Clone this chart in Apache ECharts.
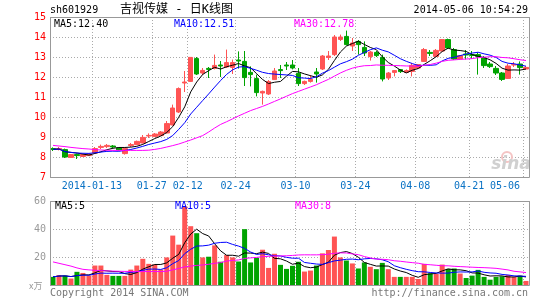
<!DOCTYPE html>
<html><head><meta charset="utf-8">
<script src="https://cdn.jsdelivr.net/npm/echarts/dist/echarts.min.js"></script>
<style>html,body{margin:0;padding:0;background:#fff}#c{width:545px;height:300px}</style>
</head><body><div id="c"></div>
<script>
const dates = ['2014-01-02','2014-01-03','2014-01-06','2014-01-07','2014-01-08','2014-01-09','2014-01-10','2014-01-13','2014-01-14','2014-01-15','2014-01-16','2014-01-17','2014-01-20','2014-01-21','2014-01-22','2014-01-23','2014-01-24','2014-01-27','2014-01-28','2014-01-29',
'2014-02-07','2014-02-10','2014-02-11','2014-02-12','2014-02-13','2014-02-14','2014-02-17','2014-02-18','2014-02-19','2014-02-20','2014-02-21','2014-02-24','2014-02-25','2014-02-26','2014-02-27','2014-02-28',
'2014-03-03','2014-03-04','2014-03-05','2014-03-06','2014-03-07','2014-03-10','2014-03-11','2014-03-12','2014-03-13','2014-03-14','2014-03-17','2014-03-18','2014-03-19','2014-03-20','2014-03-21','2014-03-24','2014-03-25','2014-03-26','2014-03-27','2014-03-28','2014-03-31',
'2014-04-01','2014-04-02','2014-04-03','2014-04-04','2014-04-08','2014-04-09','2014-04-10','2014-04-11','2014-04-14','2014-04-15','2014-04-16','2014-04-17','2014-04-18','2014-04-21','2014-04-22','2014-04-23','2014-04-24','2014-04-25','2014-04-28','2014-04-29','2014-04-30',
'2014-05-05','2014-05-06'];
const opens = [8.42,8.38,8.37,7.98,8.12,8.03,8.07,8.20,8.48,8.52,8.55,8.45,8.17,8.57,8.62,8.70,9.05,9.02,9.07,9.20,
9.60,10.25,11.70,11.78,12.92,12.20,12.43,12.43,12.60,12.50,12.48,12.85,12.78,12.23,11.92,11.20,
11.15,11.87,12.37,12.60,12.60,12.18,11.67,11.78,12.25,12.40,12.98,13.12,13.88,14.03,13.55,13.78,13.48,13.02,13.23,12.98,11.95,
12.23,12.37,12.23,12.28,12.45,12.78,13.23,13.03,13.30,13.87,13.37,12.90,13.15,13.12,13.12,12.95,12.65,12.43,12.20,11.93,12.60,
12.65,12.40];
const closes = [8.38,8.42,8.00,8.12,8.07,8.13,8.15,8.42,8.53,8.58,8.50,8.35,8.42,8.62,8.78,8.98,9.08,9.15,9.25,9.67,
10.45,11.42,11.75,12.98,12.15,12.33,12.38,12.58,12.55,12.72,12.72,12.80,11.97,12.12,11.22,11.28,
11.77,12.30,12.32,12.55,12.45,11.67,11.78,11.88,12.15,13.05,13.05,14.00,14.00,13.62,13.70,13.62,13.20,13.25,13.07,11.90,12.20,
12.32,12.27,12.32,12.58,12.62,13.37,13.18,13.33,13.87,13.45,12.90,13.07,13.10,13.08,13.03,12.57,12.52,12.20,11.88,12.55,12.62,
12.47,12.48];
const lows = [8.30,8.33,7.95,7.95,7.90,8.02,8.05,8.18,8.40,8.45,8.42,8.33,8.12,8.50,8.60,8.68,8.95,9.00,9.05,9.18,
9.58,10.20,11.25,11.75,12.10,12.10,11.95,12.38,12.00,12.45,12.15,12.42,11.55,11.53,11.03,10.62,
11.10,11.85,11.95,12.35,12.38,11.55,11.60,11.72,11.72,12.35,12.85,13.05,13.80,13.58,13.30,13.12,13.05,12.82,13.00,11.78,11.85,
12.03,12.20,12.20,12.03,12.40,12.75,13.05,13.00,13.28,13.40,12.85,12.88,12.88,12.90,12.12,12.45,12.45,12.10,11.80,11.90,12.50,
12.12,12.38];
const highs = [8.48,8.50,8.42,8.15,8.17,8.15,8.17,8.50,8.62,8.65,8.60,8.47,8.45,8.70,8.82,9.10,9.18,9.20,9.30,9.80,
10.62,11.48,12.30,12.98,13.00,12.45,12.50,13.12,12.80,13.37,12.87,13.28,13.30,12.53,12.12,11.32,
11.85,12.45,12.60,12.75,12.85,12.45,11.82,12.10,12.45,13.10,13.30,14.10,14.12,14.32,13.95,13.85,13.78,13.30,13.30,13.12,12.25,
12.35,12.40,12.38,12.70,12.65,13.45,13.35,13.40,13.90,13.92,13.45,13.10,13.35,13.30,13.23,13.05,12.75,12.55,12.25,12.65,12.75,
12.78,12.55];
const volumes = [5.8,7.0,6.7,4.6,9.4,8.6,6.7,13.9,13.9,7.2,6.5,6.5,6.5,11.0,13.9,18.7,15.1,14.6,11.0,19.7,
35.3,28.8,56.2,42.0,37.0,19.7,20.2,28.3,16.6,21.4,19.7,16.8,39.9,16.1,19.4,25.2,
12.2,22.3,14.4,11.5,13.7,16.6,9.6,10.3,13.9,22.6,25.0,34.6,19.7,17.5,15.4,11.8,16.1,13.0,11.3,15.8,11.3,
5.8,5.8,5.8,5.8,4.3,15.1,8.4,7.9,14.6,11.5,11.8,8.2,5.0,6.7,10.8,5.8,3.8,5.8,6.2,7.2,5.8,
6.7,2.9];
// MA30 values for the first days (earlier history is not shown)
const ma30Head = [8.58,8.55,8.52,8.48,8.45,8.42,8.40,8.37,8.35,8.34,8.33,8.33,8.33,8.33,8.33,8.33,8.34,8.38,8.43,8.50,
8.57,8.65,8.75,8.85,8.96,9.07,9.25,9.45,9.63];
const volMa30Head = [16.5,15.5,14.5,13.5,12.2,11.2,10.8,10.5,10.3,10.1,9.9,9.8,9.7,9.7,9.6,9.6,9.6,9.6,9.6,9.8,
10.8,11.8,13.0,13.5,14.0,14.3,14.8,15.5,16.0];
const labelIdx = [7,17,23,31,41,51,61,70,79];
const priceTicks = {min:7, max:15, step:1};
const volTicks = {min:0, max:60, step:20};
const headerPrice = ['MA5:12.40','MA10:12.51','MA30:12.78'];
const headerVol = ['MA5:5','MA10:5','MA30:8'];

function ma(arr, n, head) {
  return arr.map((v, i) => {
    if (head && i < head.length) return head[i];
    const s = Math.max(0, i - n + 1);
    let sum = 0; for (let k = s; k <= i; k++) sum += arr[k];
    return +(sum / (i - s + 1)).toFixed(3);
  });
}
const RED = '#ff5454', GREEN = '#00a300';
const candle = opens.map((o, i) => [o, closes[i], lows[i], highs[i]]);
const volData = volumes.map((v, i) => ({value: v, itemStyle: {color: closes[i] >= opens[i] ? RED : GREEN}}));
const mono = 'DejaVu Sans Mono';
const showIdx = (i) => labelIdx.indexOf(i) >= 0;
const gridLine = {show: true, interval: showIdx, lineStyle: {color: '#aaa', type: [1, 2], width: 1}};
const ySplit = {show: true, lineStyle: {color: '#aaa', type: [1, 2], width: 1}};
const lineS = (name, data, color, x, y) => ({name, type: 'line', data, xAxisIndex: x, yAxisIndex: y, symbol: 'none', silent: true,
  lineStyle: {color, width: 1}, z: 3});

const chart = echarts.init(document.getElementById('c'));
chart.setOption({
  animation: false,
  backgroundColor: '#fff',
  grid: [
    {left: 50, top: 17, width: 479, height: 160},
    {left: 50, top: 201, width: 479, height: 84}
  ],
  xAxis: [
    {type: 'category', gridIndex: 0, data: dates, boundaryGap: true,
     axisLine: {show: false}, axisTick: {show: false},
     axisLabel: {interval: showIdx, color: '#0a72c4', fontFamily: mono, fontSize: 10, margin: 4,
       padding: [0, 6, 0, 0], alignMaxLabel: 'right',
       formatter: (v, i) => (dates.indexOf(v) === labelIdx[0] ? v : v.slice(5))},
     splitLine: gridLine},
    {type: 'category', gridIndex: 1, data: dates, boundaryGap: true,
     axisLine: {show: false}, axisTick: {show: false}, axisLabel: {show: false},
     splitLine: gridLine}
  ],
  yAxis: [
    {type: 'value', gridIndex: 0, min: priceTicks.min, max: priceTicks.max, interval: priceTicks.step,
     axisLine: {show: false}, axisTick: {show: false},
     axisLabel: {color: '#f00', fontFamily: mono, fontSize: 10, margin: 4},
     splitLine: ySplit},
    {type: 'value', gridIndex: 1, min: volTicks.min, max: volTicks.max, interval: volTicks.step,
     axisLine: {show: false}, axisTick: {show: false},
     axisLabel: {color: '#999', fontFamily: mono, fontSize: 10, margin: 4, formatter: v => (v === 0 ? '' : v)},
     splitLine: ySplit}
  ],
  series: [
    {type: 'candlestick', data: candle, xAxisIndex: 0, yAxisIndex: 0, barWidth: 5, silent: true,
     itemStyle: {color: RED, color0: GREEN, borderColor: RED, borderColor0: GREEN, borderWidth: 1}},
    lineS('MA5', ma(closes, 5), '#000', 0, 0),
    lineS('MA10', ma(closes, 10), '#0000ff', 0, 0),
    lineS('MA30', ma(closes, 30, ma30Head), '#ff00ff', 0, 0),
    {type: 'bar', data: volData, xAxisIndex: 1, yAxisIndex: 1, barWidth: 5, silent: true},
    lineS('VMA5', ma(volumes, 5), '#000', 1, 1),
    lineS('VMA10', ma(volumes, 10), '#0000ff', 1, 1),
    lineS('VMA30', ma(volumes, 30, volMa30Head), '#ff00ff', 1, 1)
  ],
  graphic: [
    {type: 'rect', z: 100, silent: true, shape: {x: 50.5, y: 17.5, width: 479, height: 160}, style: {fill: 'none', stroke: '#999', lineWidth: 1}},
    {type: 'rect', z: 100, silent: true, shape: {x: 50.5, y: 201.5, width: 479, height: 84}, style: {fill: 'none', stroke: '#999', lineWidth: 1}},
    {type: 'text', z: 101, x: 50, y: 10, style: {text: 'sh601929', fill: '#000', font: '10px ' + mono, textVerticalAlign: 'middle'}},
    {type: 'text', z: 101, x: 120, y: 10, style: {text: '吉视传媒 - 日K线图', fill: '#000', font: '12px "DejaVu Sans Mono", "Noto Sans CJK SC"', textVerticalAlign: 'middle'}},
    {type: 'text', z: 101, x: 528, y: 10, style: {text: '2014-05-06 10:54:29', fill: '#000', font: '10px ' + mono, textAlign: 'right', textVerticalAlign: 'middle'}},
    {type: 'text', z: 101, x: 54, y: 24, style: {text: headerPrice[0], fill: '#000', font: '10px ' + mono, textVerticalAlign: 'middle'}},
    {type: 'text', z: 101, x: 174, y: 24, style: {text: headerPrice[1], fill: '#0000ff', font: '10px ' + mono, textVerticalAlign: 'middle'}},
    {type: 'text', z: 101, x: 294, y: 24, style: {text: headerPrice[2], fill: '#ff00ff', font: '10px ' + mono, textVerticalAlign: 'middle'}},
    {type: 'text', z: 101, x: 55, y: 206, style: {text: headerVol[0], fill: '#000', font: '10px ' + mono, textVerticalAlign: 'middle'}},
    {type: 'text', z: 101, x: 175, y: 206, style: {text: headerVol[1], fill: '#0000ff', font: '10px ' + mono, textVerticalAlign: 'middle'}},
    {type: 'text', z: 101, x: 295, y: 206, style: {text: headerVol[2], fill: '#ff00ff', font: '10px ' + mono, textVerticalAlign: 'middle'}},
    {type: 'text', z: 101, x: 29, y: 286, style: {text: 'x万', fill: '#999', font: '9px "Noto Sans CJK SC"', textVerticalAlign: 'middle'}},
    {type: 'text', z: 101, x: 50, y: 293, style: {text: 'Copyright 2014 SINA.COM', fill: '#777', font: '10px ' + mono, textVerticalAlign: 'middle'}},
    {type: 'text', z: 101, x: 528, y: 293, style: {text: 'http://finance.sina.com.cn', fill: '#777', font: '10px ' + mono, textAlign: 'right', textVerticalAlign: 'middle'}},
    {type: 'circle', z: 1, silent: true, shape: {cx: 507, cy: 157, r: 5}, style: {fill: 'none', stroke: '#f4c4c4', lineWidth: 2}},
    {type: 'text', z: 1, x: 511, y: 165, style: {text: 'sina', fill: '#d0d0d0', font: 'italic bold 17px "DejaVu Sans"', textAlign: 'center', textVerticalAlign: 'middle'}}
  ]
});
</script></body></html>
